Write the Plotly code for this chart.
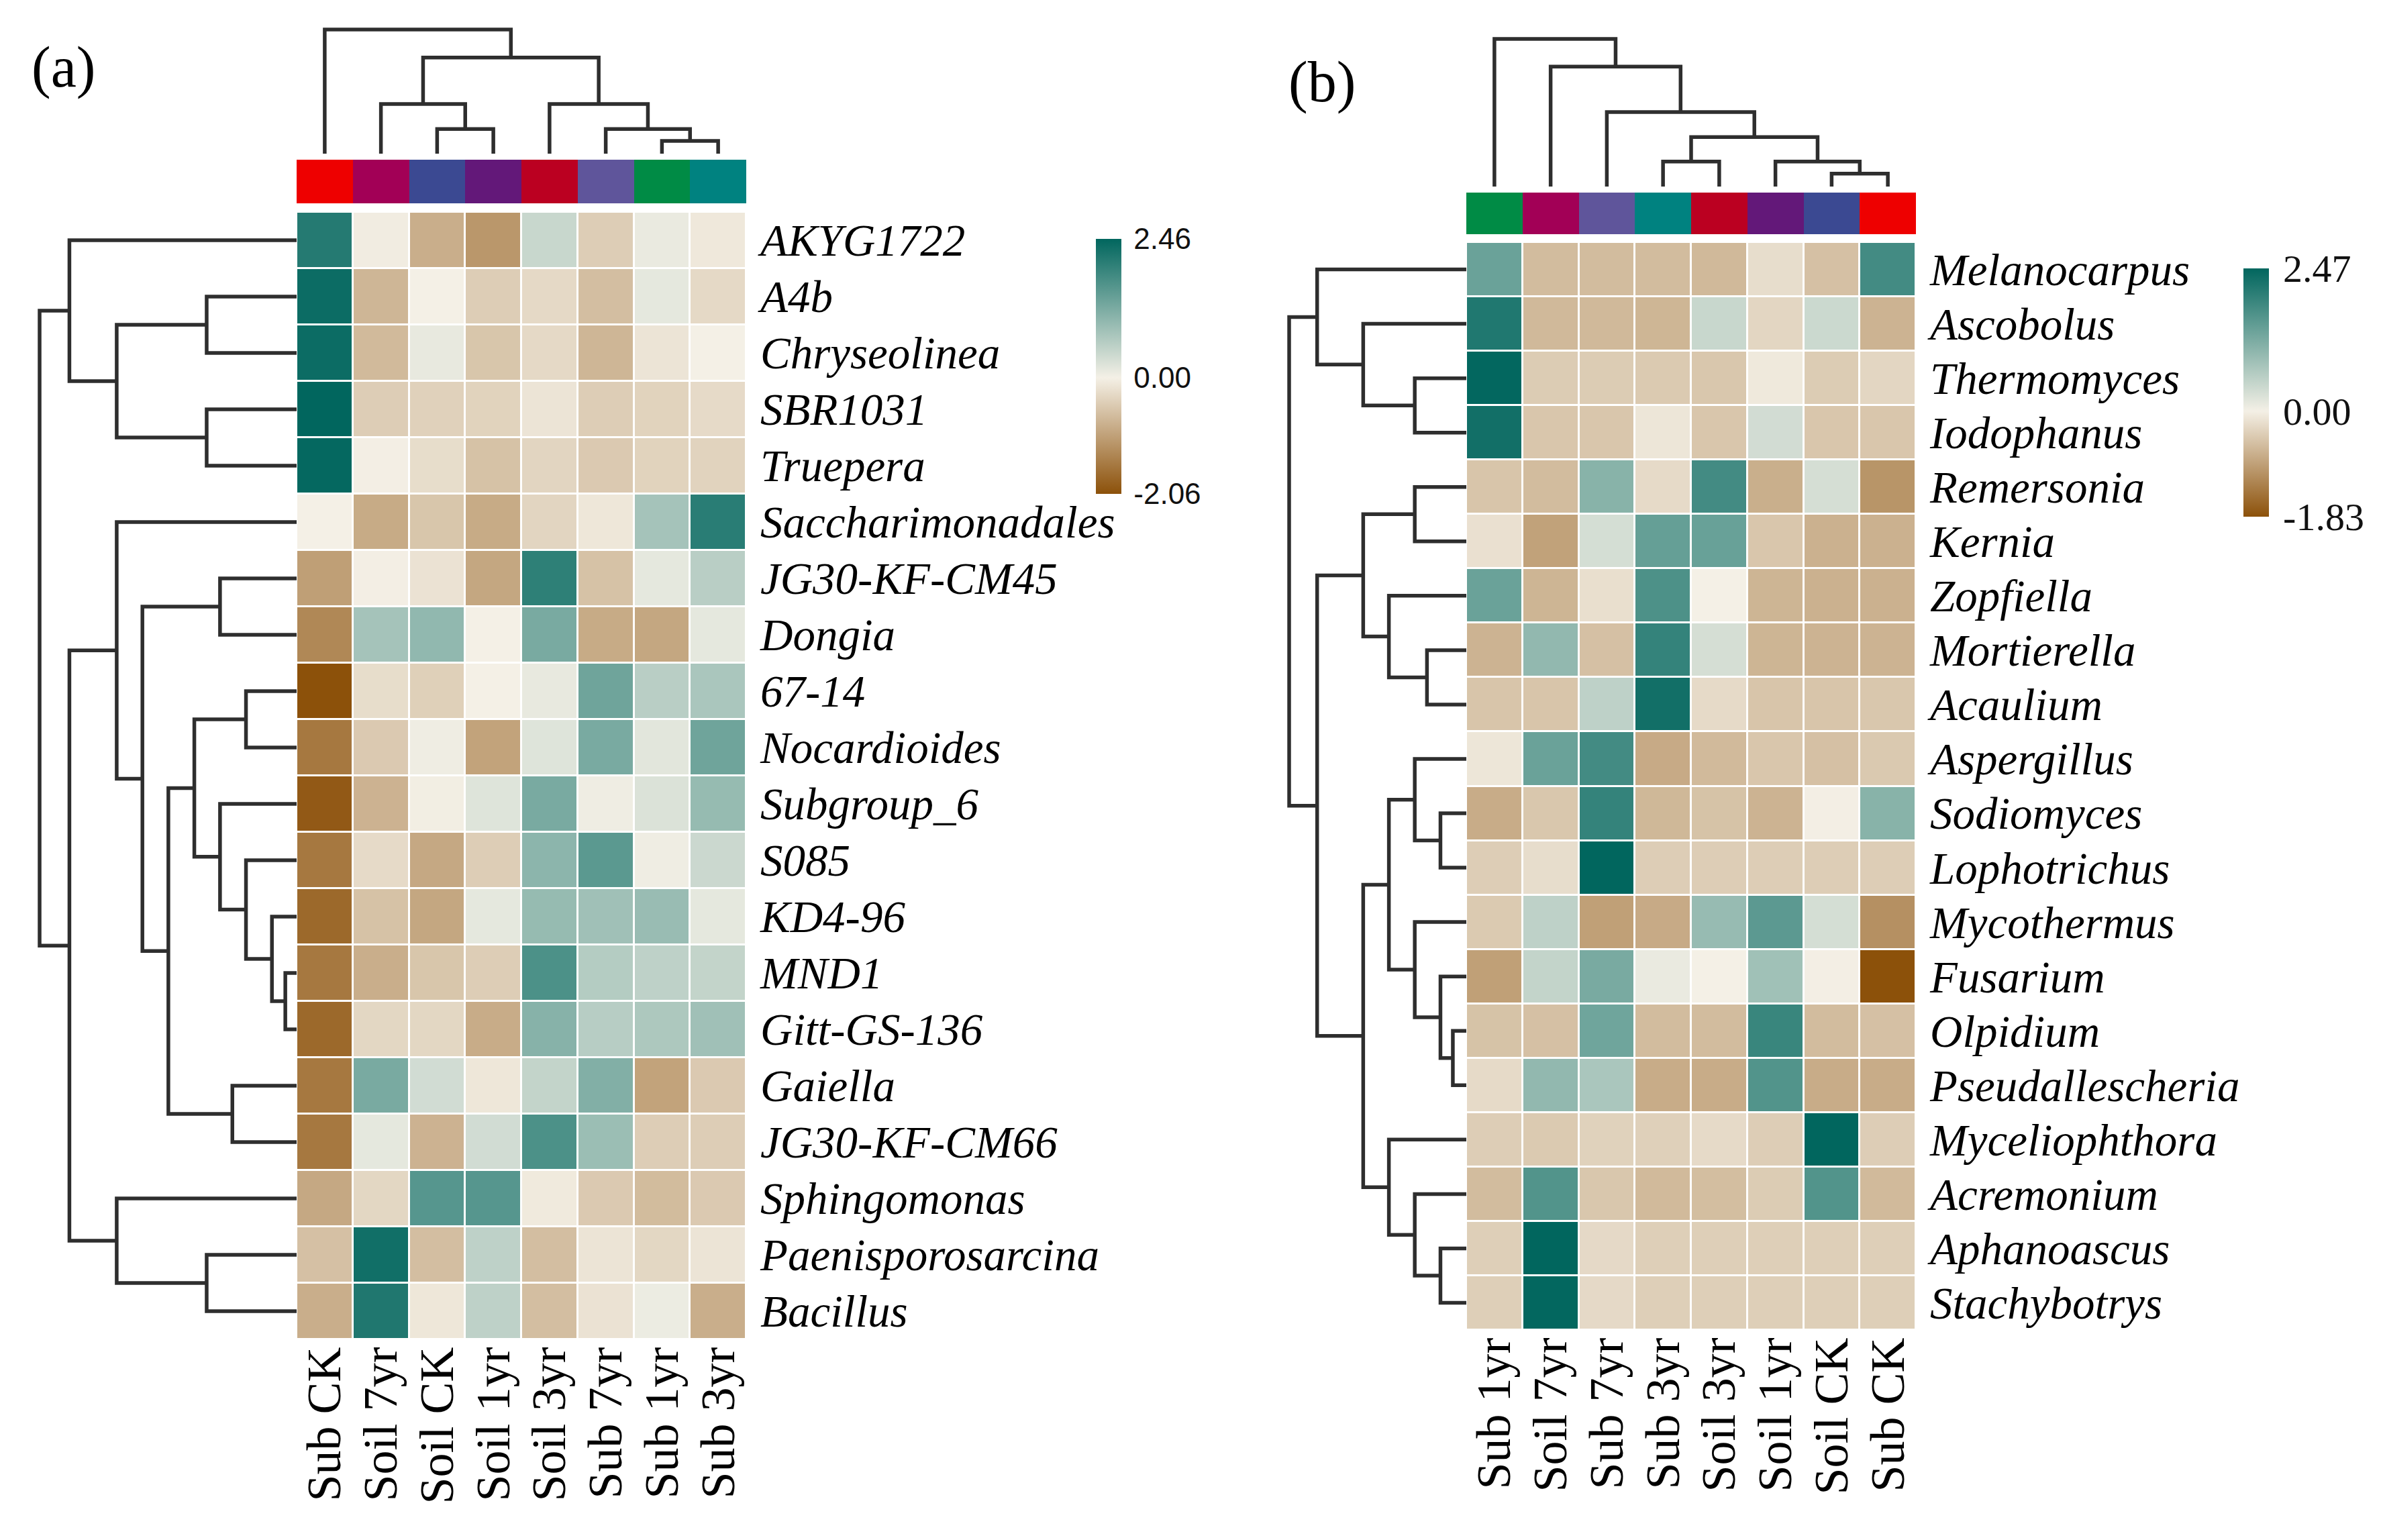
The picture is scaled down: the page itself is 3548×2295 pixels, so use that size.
import plotly.graph_objects as go

W, H = 3548, 2295

# ---------------- Panel (a) data ----------------
a_cols = ["Sub CK", "Soil 7yr", "Soil CK", "Soil 1yr", "Soil 3yr", "Sub 7yr", "Sub 1yr", "Sub 3yr"]
a_rows = ["AKYG1722", "A4b", "Chryseolinea", "SBR1031", "Truepera", "Saccharimonadales",
          "JG30-KF-CM45", "Dongia", "67-14", "Nocardioides", "Subgroup_6", "S085", "KD4-96",
          "MND1", "Gitt-GS-136", "Gaiella", "JG30-KF-CM66", "Sphingomonas",
          "Paenisporosarcina", "Bacillus"]
a_values = [
    [2.10, -0.05, -0.85, -1.15, 0.45, -0.45, 0.10, -0.10],
    [2.35, -0.75, 0.00, -0.45, -0.30, -0.65, 0.15, -0.30],
    [2.35, -0.70, 0.12, -0.55, -0.30, -0.75, -0.15, 0.00],
    [2.46, -0.45, -0.40, -0.38, -0.15, -0.45, -0.38, -0.28],
    [2.42, -0.02, -0.25, -0.60, -0.35, -0.50, -0.38, -0.37],
    [0.00, -0.90, -0.55, -0.90, -0.35, -0.12, 0.80, 2.05],
    [-1.05, -0.02, -0.18, -0.95, 2.00, -0.60, 0.15, 0.60],
    [-1.35, 0.80, 1.00, 0.00, 1.25, -0.90, -0.95, 0.15],
    [-2.06, -0.25, -0.42, 0.00, 0.12, 1.35, 0.60, 0.75],
    [-1.55, -0.50, 0.05, -1.00, 0.22, 1.25, 0.18, 1.35],
    [-1.95, -0.80, -0.03, 0.22, 1.25, 0.05, 0.25, 0.95],
    [-1.55, -0.28, -0.93, -0.45, 1.05, 1.55, 0.05, 0.42],
    [-1.75, -0.60, -0.95, 0.15, 0.95, 0.85, 0.92, 0.15],
    [-1.55, -0.85, -0.55, -0.45, 1.70, 0.65, 0.55, 0.50],
    [-1.75, -0.33, -0.33, -0.88, 1.10, 0.62, 0.72, 0.85],
    [-1.55, 1.25, 0.35, -0.12, 0.50, 1.15, -1.00, -0.50],
    [-1.55, 0.15, -0.80, 0.35, 1.70, 0.90, -0.45, -0.45],
    [-0.93, -0.33, 1.60, 1.60, -0.08, -0.50, -0.68, -0.50],
    [-0.62, 2.30, -0.65, 0.55, -0.65, -0.15, -0.33, -0.15],
    [-0.85, 2.15, -0.12, 0.55, -0.65, -0.18, 0.08, -0.85],
]
a_min, a_max = -2.06, 2.46
a_ticktext = ["-2.06", "0.00", "2.46"]
# linkage: (child_a, child_b, relative height); leaves 0..n-1, merges numbered n, n+1, ...
a_col_merges = [(6, 7, 0.103), (5, 8, 0.199), (2, 3, 0.199), (4, 9, 0.40),
                (1, 10, 0.40), (12, 11, 0.775), (0, 13, 1.0)]
a_row_merges = [(13, 14, 0.044), (12, 20, 0.096), (11, 21, 0.197), (10, 22, 0.298),
                (8, 9, 0.197), (24, 23, 0.398), (15, 16, 0.250), (25, 26, 0.499),
                (6, 7, 0.298), (28, 27, 0.600), (5, 29, 0.700), (18, 19, 0.350),
                (17, 31, 0.700), (30, 32, 0.884), (1, 2, 0.350), (3, 4, 0.350),
                (34, 35, 0.700), (0, 36, 0.884), (37, 33, 1.0)]

# ---------------- Panel (b) data ----------------
b_cols = ["Sub 1yr", "Soil 7yr", "Sub 7yr", "Sub 3yr", "Soil 3yr", "Soil 1yr", "Soil CK", "Sub CK"]
b_rows = ["Melanocarpus", "Ascobolus", "Thermomyces", "Iodophanus", "Remersonia", "Kernia",
          "Zopfiella", "Mortierella", "Acaulium", "Aspergillus", "Sodiomyces", "Lophotrichus",
          "Mycothermus", "Fusarium", "Olpidium", "Pseudallescheria", "Myceliophthora",
          "Acremonium", "Aphanoascus", "Stachybotrys"]
b_values = [
    [1.40, -0.60, -0.60, -0.60, -0.63, -0.22, -0.55, 1.80],
    [2.15, -0.63, -0.63, -0.67, 0.45, -0.30, 0.42, -0.70],
    [2.45, -0.42, -0.42, -0.44, -0.47, -0.08, -0.42, -0.30],
    [2.30, -0.48, -0.48, -0.12, -0.48, 0.35, -0.48, -0.48],
    [-0.50, -0.60, 1.10, -0.25, 1.80, -0.75, 0.32, -1.05],
    [-0.18, -0.90, 0.33, 1.45, 1.42, -0.48, -0.72, -0.72],
    [1.40, -0.68, -0.20, 1.70, 0.00, -0.68, -0.72, -0.72],
    [-0.70, 1.00, -0.55, 1.95, 0.32, -0.68, -0.70, -0.70],
    [-0.50, -0.50, 0.55, 2.30, -0.25, -0.50, -0.50, -0.47],
    [-0.12, 1.40, 1.80, -0.80, -0.62, -0.48, -0.55, -0.45],
    [-0.78, -0.47, 1.95, -0.65, -0.52, -0.70, -0.02, 1.10],
    [-0.40, -0.22, 2.47, -0.40, -0.40, -0.40, -0.40, -0.40],
    [-0.44, 0.55, -0.92, -0.80, 0.95, 1.55, 0.33, -1.10],
    [-0.92, 0.50, 1.25, 0.10, 0.00, 0.85, -0.02, -1.83],
    [-0.52, -0.55, 1.35, -0.60, -0.60, 1.90, -0.60, -0.55],
    [-0.25, 1.00, 0.75, -0.78, -0.78, 1.65, -0.78, -0.78],
    [-0.40, -0.44, -0.35, -0.37, -0.25, -0.40, 2.47, -0.40],
    [-0.60, 1.65, -0.47, -0.62, -0.58, -0.42, 1.65, -0.62],
    [-0.38, 2.47, -0.26, -0.38, -0.38, -0.38, -0.38, -0.38],
    [-0.38, 2.45, -0.26, -0.38, -0.38, -0.38, -0.38, -0.38],
]
b_min, b_max = -1.83, 2.47
b_ticktext = ["-1.83", "0.00", "2.47"]
b_col_merges = [(6, 7, 0.087), (5, 8, 0.169), (3, 4, 0.169), (10, 9, 0.335),
                (2, 11, 0.504), (1, 12, 0.813), (0, 13, 1.0)]
b_row_merges = [(2, 3, 0.291), (1, 20, 0.582), (0, 21, 0.842), (4, 5, 0.291),
                (7, 8, 0.222), (6, 24, 0.437), (23, 25, 0.582), (10, 11, 0.146),
                (9, 27, 0.291), (14, 15, 0.076), (13, 29, 0.146), (12, 30, 0.291),
                (28, 31, 0.437), (18, 19, 0.146), (17, 33, 0.291), (16, 34, 0.437),
                (32, 35, 0.582), (26, 36, 0.842), (22, 37, 1.0)]

# ---------------- styles ----------------
sample_colors = {"Soil CK": "#3B4992", "Sub CK": "#EE0000", "Sub 1yr": "#008B45",
                 "Soil 1yr": "#631879", "Sub 3yr": "#008280", "Soil 3yr": "#BB0021",
                 "Sub 7yr": "#5F559B", "Soil 7yr": "#A20056"}
BROWN, CREAM, TEAL = "#8C510A", "#F4F0E6", "#01665E"
LINE = "#2E2E2E"
SERIF = "Liberation Serif, Times New Roman, serif"
SANS = "Liberation Sans, Arial, sans-serif"


def dx(p0, p1):
    return [p0 / W, p1 / W]


def dy(p0, p1):  # p0 top px, p1 bottom px
    return [1 - p1 / H, 1 - p0 / H]


def dendro(n, merges):
    pos = {i: float(i) for i in range(n)}
    hgt = {i: 0.0 for i in range(n)}
    P, Hh = [], []
    for k, (a, b, h) in enumerate(merges):
        node = n + k
        P += [pos[a], pos[a], pos[b], pos[b], None]
        Hh += [hgt[a], h, h, hgt[b], None]
        pos[node] = (pos[a] + pos[b]) / 2
        hgt[node] = h
    return P, Hh


fig = go.Figure()
layout = dict(width=W, height=H, margin=dict(l=0, r=0, t=0, b=0),
              paper_bgcolor="white", plot_bgcolor="white", showlegend=False)

panels = [
    dict(cols=a_cols, rows=a_rows, vals=a_values, vmin=a_min, vmax=a_max, tt=a_ticktext,
         cm=a_col_merges, rm=a_row_merges,
         hx=(434, 1104), hy=(308, 1988), ay=(230, 295), cdy=(36, 221), rdx=(51, 434),
         cb=(1625, 348, 728), cbfont=dict(family=SANS, size=44, color="#111"),
         label="(a)", lab_xy=(86, 92), axn=1),
    dict(cols=b_cols, rows=b_rows, vals=b_values, vmin=b_min, vmax=b_max, tt=b_ticktext,
         cm=b_col_merges, rm=b_row_merges,
         hx=(2177, 2847), hy=(353, 1974), ay=(279, 341), cdy=(50, 270), rdx=(1913, 2177),
         cb=(3335, 392, 762), cbfont=dict(family=SERIF, size=58, color="#111"),
         label="(b)", lab_xy=(1962, 114), axn=5),
]

annotations = []
pad = 5
for p in panels:
    n0 = p["axn"]
    names = [("x" if i == 1 else f"x{i}", "y" if i == 1 else f"y{i}") for i in range(n0, n0 + 4)]
    ncol, nrow = len(p["cols"]), len(p["rows"])
    mid = (0 - p["vmin"]) / (p["vmax"] - p["vmin"])
    cscale = [[0, BROWN], [mid, CREAM], [1, TEAL]]
    cbx, cbt, cbb = p["cb"]
    # heatmap
    fig.add_trace(go.Heatmap(
        z=p["vals"], x=p["cols"], y=p["rows"], xaxis=names[0][0], yaxis=names[0][1],
        colorscale=cscale, zmin=p["vmin"], zmax=p["vmax"], xgap=3, ygap=3,
        colorbar=dict(x=cbx / W, xanchor="left", y=1 - (cbt + cbb) / 2 / H, yanchor="middle",
                      len=cbb - cbt, lenmode="pixels", thickness=38,
                      thicknessmode="pixels", outlinewidth=0, xpad=0, ypad=0,
                      tickvals=[p["vmin"], 0, p["vmax"]], ticktext=p["tt"],
                      ticks="outside", ticklen=10, tickcolor="rgba(0,0,0,0)",
                      tickfont=p["cbfont"])))
    # annotation colour bar
    colors = [sample_colors[c] for c in p["cols"]]
    fig.add_trace(go.Heatmap(
        z=[list(range(ncol))], x=p["cols"], y=["group"], xaxis=names[1][0], yaxis=names[1][1],
        colorscale=[[i / (ncol - 1), colors[i]] for i in range(ncol)], zmin=0, zmax=ncol - 1,
        showscale=False, hoverinfo="x"))
    # column dendrogram
    cx, ch = dendro(ncol, p["cm"])
    fig.add_trace(go.Scatter(x=cx, y=ch, mode="lines", xaxis=names[2][0], yaxis=names[2][1],
                             line=dict(color=LINE, width=5.5), hoverinfo="skip"))
    # row dendrogram
    ry, rh = dendro(nrow, p["rm"])
    fig.add_trace(go.Scatter(x=rh, y=ry, mode="lines", xaxis=names[3][0], yaxis=names[3][1],
                             line=dict(color=LINE, width=5.5), hoverinfo="skip"))

    hx0, hx1 = p["hx"]
    hy0, hy1 = p["hy"]
    hidden = dict(showgrid=False, zeroline=False, showline=False, showticklabels=False, ticks="")
    xk = lambda s: "xaxis" if s == "x" else "xaxis" + s[1:]
    yk = lambda s: "yaxis" if s == "y" else "yaxis" + s[1:]
    # heatmap axes
    layout[xk(names[0][0])] = dict(domain=dx(hx0, hx1), anchor=names[0][1], range=[-0.5, ncol - 0.5],
                                   showgrid=False, zeroline=False, showline=False, ticks="",
                                   tickmode="array", tickvals=p["cols"], ticktext=p["cols"],
                                   tickangle=-90, ticklabelstandoff=-4,
                                   tickfont=dict(family=SERIF, size=72, color="#000"))
    layout[yk(names[0][1])] = dict(domain=dy(hy0, hy1), anchor=names[0][0], range=[nrow - 0.5, -0.5],
                                   side="right", showgrid=False, zeroline=False, showline=False,
                                   tickmode="array", tickvals=p["rows"], ticktext=p["rows"],
                                   ticks="", ticklabelstandoff=20,
                                   tickfont=dict(family=SERIF, size=67, color="#000", style="italic"))
    # annotation bar axes
    ay0, ay1 = p["ay"]
    layout[xk(names[1][0])] = dict(domain=dx(hx0, hx1), anchor=names[1][1], range=[-0.5, ncol - 0.5], **hidden)
    layout[yk(names[1][1])] = dict(domain=dy(ay0, ay1), anchor=names[1][0], range=[-0.5, 0.5], **hidden)
    # column dendrogram axes (pad beyond the root so the top line isn't clipped)
    ct, cb_ = p["cdy"]
    span = cb_ - ct
    layout[xk(names[2][0])] = dict(domain=dx(hx0, hx1), anchor=names[2][1], range=[-0.5, ncol - 0.5], **hidden)
    layout[yk(names[2][1])] = dict(domain=dy(ct - pad, cb_), anchor=names[2][0],
                                   range=[0, 1 + pad / span], **hidden)
    # row dendrogram axes
    rl, rr = p["rdx"]
    span = rr - rl
    layout[xk(names[3][0])] = dict(domain=dx(rl - pad, rr), anchor=names[3][1],
                                   range=[1 + pad / span, 0], **hidden)
    layout[yk(names[3][1])] = dict(domain=dy(hy0, hy1), anchor=names[3][0],
                                   range=[nrow - 0.5, -0.5], **hidden)

    lx, ly = p["lab_xy"]
    annotations.append(dict(text=p["label"], x=lx / W, y=1 - ly / H, xref="paper", yref="paper",
                            xanchor="center", yanchor="middle", showarrow=False,
                            font=dict(family=SERIF, size=86, color="#000")))

layout["annotations"] = annotations
fig.update_layout(**layout)
fig.write_html("out.html")
